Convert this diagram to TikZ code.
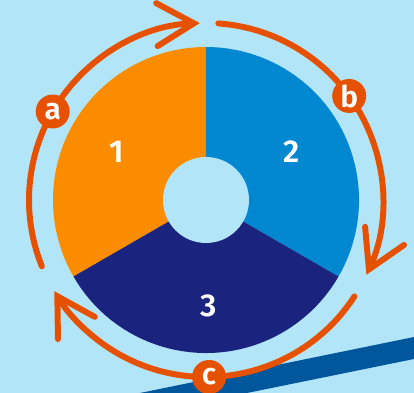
\documentclass[tikz,border=0pt]{standalone}
\usepackage{fontspec}
\setmainfont{Fira Sans}
\newfontfamily\labelfont{Fira Sans SemiBold}
\usepackage{tikz}
\usetikzlibrary{arrows.meta}
\definecolor{bgblue}{RGB}{179, 229, 249}
\definecolor{secone}{RGB}{251, 140, 0}
\definecolor{sectwo}{RGB}{2, 136, 209}
\definecolor{secthree}{RGB}{26, 35, 126}
\definecolor{cyclearc}{RGB}{230, 81, 0}
\definecolor{stripe}{RGB}{1, 87, 155}

\begin{document}
\begin{tikzpicture}[x=0.02cm, y=0.02cm,
		cyclestep/.style={cyclearc, line width=3.4pt, line cap=round,
			-{Straight Barb[length=7.4mm, width=8.6mm, line cap=round, line join=miter]}},
		stepdot/.style={circle, fill=cyclearc, text=white, inner sep=0pt,
			minimum size=0.68cm, font=\labelfont\fontsize{17}{17}\selectfont},
		seclabel/.style={text=white, font=\labelfont\fontsize{18}{18}\selectfont}]
	\def\ro{153}
	\def\ri{43}
	\def\rc{177}

	% background and stripe
	\fill[bgblue] (0,0) rectangle (414,393);
	\useasboundingbox (0,0) rectangle (414,393);
	\fill[stripe] (140,0) -- (414,56) -- (414,34) -- (247,0) -- cycle;

	\begin{scope}[shift={(206,193)}]
		\coordinate (ctr) at (0,0);

		% donut sectors
		\fill[secone]   (ctr) -- (90:\ro)  arc[start angle=90,  end angle=210, radius=\ro] -- cycle;
		\fill[sectwo]   (ctr) -- (-30:\ro) arc[start angle=-30, end angle=90,  radius=\ro] -- cycle;
		\fill[secthree] (ctr) -- (210:\ro) arc[start angle=210, end angle=330, radius=\ro] -- cycle;
		\fill[bgblue]   (ctr) circle[radius=\ri];

		\node[seclabel] (n1) at (-89,48)  {1};
		\node[seclabel] (n2) at (86,48)   {2};
		\node[seclabel] (n3) at (3,-106)  {3};

		% cycle arrows
		\draw[cyclestep] (202:\rc) arc[start angle=202, end angle=92,   radius=\rc];
		\draw[cyclestep] (86:\rc)  arc[start angle=86,  end angle=-25,  radius=\rc];
		\draw[cyclestep] (-33:\rc) arc[start angle=-33, end angle=-149, radius=\rc];

		\node[stepdot] (sa) at (150:\rc) {a};
		\node[stepdot] (sb) at (36:\rc)  {b};
		\node[stepdot] (sc) at (-89:\rc) {c};
	\end{scope}
\end{tikzpicture}
\end{document}
